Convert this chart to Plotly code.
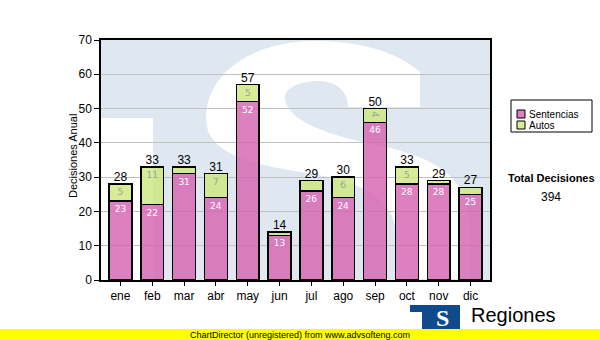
import plotly.graph_objects as go

# Monthly decisions, split by type
months = ["ene", "feb", "mar", "abr", "may", "jun", "jul", "ago", "sep", "oct", "nov", "dic"]
sentencias = [23, 22, 31, 24, 52, 13, 26, 24, 46, 28, 28, 25]
autos = [5, 11, 2, 7, 5, 1, 3, 6, 4, 5, 1, 2]
y_ticks = [0, 10, 20, 30, 40, 50, 60, 70]

totals = [s + a for s, a in zip(sentencias, autos)]
grand_total = sum(totals)

PINK = "rgba(214,96,176,0.8)"
GREEN = "rgba(204,231,124,0.8)"
WATERMARK = "#dfe8f1"
LOGO_BLUE = "#0f4a8c"
FONT = "Liberation Sans, Arial, sans-serif"
SMALL_FONT = "DejaVu Sans, Verdana, sans-serif"

W, H = 600, 340
L, R, T, B = 101, 490, 40, 280  # plot area in pixels


def px(x):
    return (x - L) / (R - L)


def py(y):
    return (B - y) / (B - T)


def path_from_px(cmds):
    out = []
    for c in cmds:
        op, pts = c[0], c[1:]
        if op == "Z":
            out.append("Z")
            continue
        coords = " ".join(f"{px(x):.4f},{py(y):.4f}" for x, y in pts)
        out.append(f"{op} {coords}")
    return " ".join(out)


fig = go.Figure()

fig.add_trace(go.Bar(
    x=months, y=sentencias, name="Sentencias",
    marker=dict(color=PINK, line=dict(color="black", width=1.5)),
    text=[str(v) for v in sentencias], textposition="inside",
    insidetextanchor="end", constraintext="none",
    textfont=dict(color="white", size=9, family=SMALL_FONT),
    showlegend=False, hoverinfo="skip",
))
fig.add_trace(go.Bar(
    x=months, y=autos, name="Autos",
    marker=dict(color=GREEN, line=dict(color="black", width=1.5)),
    text=[str(v) if v >= 4 else "" for v in autos], textposition="inside",
    insidetextanchor="end", constraintext="none",
    textfont=dict(color="#a0a0a0", size=9, family=SMALL_FONT),
    showlegend=False, hoverinfo="skip",
))
fig.add_trace(go.Scatter(
    x=months, y=totals, mode="text", text=[str(t) for t in totals],
    textposition="top center", textfont=dict(color="black", size=12, family=FONT),
    showlegend=False, hoverinfo="skip", cliponaxis=False,
))

shapes = []
# watermark: light blue field with a white "S" and left notch
shapes.append(dict(type="rect", xref="paper", yref="paper", x0=0, x1=1, y0=0, y1=1,
                   fillcolor=WATERMARK, line=dict(width=0), layer="below"))
shapes.append(dict(type="rect", xref="paper", yref="paper", x0=0, x1=px(153), y0=0, y1=py(118),
                   fillcolor="white", line=dict(width=0), layer="below"))
s_path = path_from_px([
    ("M", (420, 107)),
    ("L", (420, 72)),
    ("C", (395, 50), (355, 41), (315, 41)),
    ("C", (250, 41), (206, 75), (206, 118)),
    ("C", (206, 150), (240, 162), (300, 172)),
    ("C", (340, 178), (392, 188), (396, 232)),
    ("L", (396, 279)),
    ("L", (470, 279)),
    ("L", (470, 225)),
    ("C", (468, 180), (440, 160), (390, 148)),
    ("C", (340, 138), (290, 125), (285, 100)),
    ("C", (283, 88), (300, 81), (318, 81)),
    ("C", (335, 81), (348, 90), (348, 107)),
    ("Z",),
])
shapes.append(dict(type="path", xref="paper", yref="paper", path=s_path,
                   fillcolor="white", line=dict(width=0), layer="below"))

# legend box and swatches
shapes.append(dict(type="rect", xref="paper", yref="paper", x0=px(511), x1=px(592), y0=py(132), y1=py(100),
                   fillcolor="white", line=dict(color="black", width=1)))
shapes.append(dict(type="rect", xref="paper", yref="paper", x0=px(517), x1=px(525), y0=py(118), y1=py(110),
                   fillcolor="#dc80c0", line=dict(color="black", width=1)))
shapes.append(dict(type="rect", xref="paper", yref="paper", x0=px(517), x1=px(525), y0=py(129), y1=py(121),
                   fillcolor="#d6ec96", line=dict(color="black", width=1)))

# logo
shapes.append(dict(type="rect", xref="paper", yref="paper", x0=px(410), x1=px(460), y0=py(330), y1=py(305),
                   fillcolor=LOGO_BLUE, line=dict(width=0)))
shapes.append(dict(type="rect", xref="paper", yref="paper", x0=px(410), x1=px(422), y0=py(330), y1=py(312),
                   fillcolor="white", line=dict(width=0)))

# footer band
shapes.append(dict(type="rect", xref="paper", yref="paper", x0=px(0), x1=px(W), y0=py(H), y1=py(329),
                   fillcolor="#ffff00", line=dict(width=0), layer="above"))

annotations = [
    dict(text="Decisiones Anual", x=px(73), y=py(156), xanchor="center", yanchor="middle",
         textangle=-90, font=dict(size=11, color="black", family=FONT)),
    dict(text="Sentencias", x=px(527), y=py(114.5), xanchor="left", yanchor="middle",
         font=dict(size=10, color="black", family=FONT)),
    dict(text="Autos", x=px(527), y=py(126), xanchor="left", yanchor="middle",
         font=dict(size=10, color="black", family=FONT)),
    dict(text="<b>Total Decisiones</b>", x=px(551), y=py(178), xanchor="center", yanchor="middle",
         font=dict(size=11, color="black", family=FONT)),
    dict(text=str(grand_total), x=px(551), y=py(197), xanchor="center", yanchor="middle",
         font=dict(size=12, color="black", family=FONT)),
    dict(text="<b>S</b>", x=px(442), y=py(318), xanchor="center", yanchor="middle",
         font=dict(size=24, color="white", family="Liberation Serif, serif")),
    dict(text="Regiones", x=px(469), y=py(315), xanchor="left", yanchor="middle",
         font=dict(size=20, color="black", family=FONT)),
    dict(text="ChartDirector (unregistered) from www.advsofteng.com", x=px(300), y=py(334.5),
         xanchor="center", yanchor="middle", font=dict(size=9, color="black", family=FONT)),
]
for a in annotations:
    a.update(xref="paper", yref="paper", showarrow=False)

fig.update_layout(
    width=W, height=H,
    margin=dict(l=L, r=W - R, t=T, b=H - B, pad=0),
    paper_bgcolor="white", plot_bgcolor="rgba(0,0,0,0)",
    barmode="stack", bargap=0.28,
    uniformtext=dict(minsize=9, mode="show"),
    shapes=shapes, annotations=annotations,
    font=dict(family=FONT, color="black"),
    xaxis=dict(
        showline=True, linecolor="black", linewidth=1.5, mirror=True,
        ticks="outside", ticklen=4, tickcolor="black", tickwidth=1,
        tickfont=dict(size=12, family=FONT, color="black"), showgrid=False,
    ),
    yaxis=dict(
        range=[0, 70], tickvals=y_ticks,
        showgrid=True, gridcolor="#c0c0c0", gridwidth=1,
        showline=True, linecolor="black", linewidth=1.5, mirror=True,
        ticks="outside", ticklen=5, tickcolor="black", tickwidth=1,
        tickfont=dict(size=12, family=FONT, color="black"), zeroline=False,
    ),
)

fig.write_html("out.html")
